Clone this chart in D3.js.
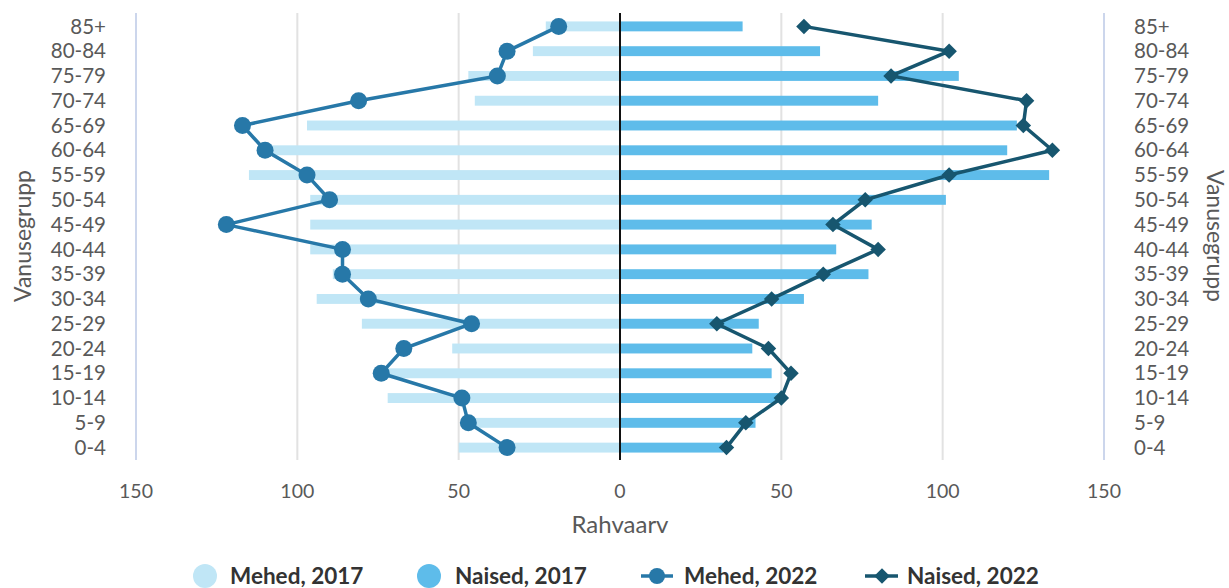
<!DOCTYPE html>
<html>
<head>
<meta charset="utf-8">
<script src="https://cdn.jsdelivr.net/npm/d3@7"></script>
<style>
  body { margin: 0; background: #fff; }
  svg { display: block; font-family: Lato, "Open Sans", sans-serif; }
</style>
</head>
<body>
<script>
(function () {
  var ageGroups = ['0-4', '5-9', '10-14', '15-19', '20-24', '25-29', '30-34', '35-39',
    '40-44', '45-49', '50-54', '55-59', '60-64', '65-69', '70-74', '75-79', '80-84', '85+'];
  var mehed2017 = [50, 46, 72, 74, 52, 80, 94, 89, 96, 96, 96, 115, 108, 97, 45, 47, 27, 23];
  var naised2017 = [32, 42, 49, 47, 41, 43, 57, 77, 67, 78, 101, 133, 120, 123, 80, 105, 62, 38];
  var mehed2022 = [35, 47, 49, 74, 67, 46, 78, 86, 86, 122, 90, 97, 110, 117, 81, 38, 35, 19];
  var naised2022 = [33, 39, 50, 53, 46, 30, 47, 63, 80, 66, 76, 102, 134, 125, 126, 84, 102, 57];
  var xTicks = [-150, -100, -50, 0, 50, 100, 150];

  var width = 1229,
    height = 588,
    svg, x, y, bw, legend;

  svg = d3.select('body')
    .append('svg')
    .attr('width', width)
    .attr('height', height);

  x = d3.scaleLinear()
    .domain([-150, 150])
    .range([136, 1104]);

  y = d3.scaleBand()
    .domain(ageGroups.slice().reverse())
    .range([14, 460])
    .paddingInner(0.6)
    .paddingOuter(0.3);

  bw = y.bandwidth();
  function cy(g) { return y(g) + bw / 2; }

  // gridlines
  svg.append('g')
    .selectAll('line')
    .data([-100, -50, 50, 100])
    .enter()
    .append('line')
    .attr('x1', function (d) { return x(d); })
    .attr('x2', function (d) { return x(d); })
    .attr('y1', 13)
    .attr('y2', 460)
    .attr('stroke', '#e2e2e2')
    .attr('stroke-width', 2);

  // outer axis lines
  svg.append('g')
    .selectAll('line')
    .data([-150, 150])
    .enter()
    .append('line')
    .attr('x1', function (d) { return x(d); })
    .attr('x2', function (d) { return x(d); })
    .attr('y1', 13)
    .attr('y2', 460)
    .attr('stroke', '#ccd6ec')
    .attr('stroke-width', 2);

  // bars
  svg.append('g')
    .selectAll('rect')
    .data(ageGroups)
    .enter()
    .append('rect')
    .attr('x', function (d, i) { return x(-mehed2017[i]); })
    .attr('y', function (d) { return y(d); })
    .attr('width', function (d, i) { return x(0) - x(-mehed2017[i]); })
    .attr('height', bw)
    .attr('fill', '#c0e6f6');

  svg.append('g')
    .selectAll('rect')
    .data(ageGroups)
    .enter()
    .append('rect')
    .attr('x', x(0))
    .attr('y', function (d) { return y(d); })
    .attr('width', function (d, i) { return x(naised2017[i]) - x(0); })
    .attr('height', bw)
    .attr('fill', '#5ebcea');

  // zero line
  svg.append('line')
    .attr('x1', x(0))
    .attr('x2', x(0))
    .attr('y1', 13)
    .attr('y2', 460)
    .attr('stroke', '#111')
    .attr('stroke-width', 2);

  // lines
  var lineM = d3.line()
    .x(function (d) { return x(-d); })
    .y(function (d, i) { return cy(ageGroups[i]); });
  var lineN = d3.line()
    .x(function (d) { return x(d); })
    .y(function (d, i) { return cy(ageGroups[i]); });

  svg.append('path')
    .attr('d', lineM(mehed2022))
    .attr('fill', 'none')
    .attr('stroke', '#2778a8')
    .attr('stroke-width', 3.5);

  svg.append('g')
    .selectAll('circle')
    .data(mehed2022)
    .enter()
    .append('circle')
    .attr('cx', function (d) { return x(-d); })
    .attr('cy', function (d, i) { return cy(ageGroups[i]); })
    .attr('r', 8.5)
    .attr('fill', '#2778a8');

  svg.append('path')
    .attr('d', lineN(naised2022))
    .attr('fill', 'none')
    .attr('stroke', '#17566f')
    .attr('stroke-width', 3.5);

  var diamond = d3.symbol().type(d3.symbolSquare).size(120);
  svg.append('g')
    .selectAll('path')
    .data(naised2022)
    .enter()
    .append('path')
    .attr('d', diamond)
    .attr('transform', function (d, i) {
      return 'translate(' + x(d) + ',' + cy(ageGroups[i]) + ') rotate(45)';
    })
    .attr('fill', '#17566f');

  // y tick labels both sides
  svg.append('g')
    .selectAll('text')
    .data(ageGroups)
    .enter()
    .append('text')
    .attr('x', 106)
    .attr('y', function (d) { return cy(d); })
    .attr('dy', '0.35em')
    .attr('text-anchor', 'end')
    .attr('font-size', 20.5)
    .attr('fill', '#595959')
    .text(function (d) { return d; });

  svg.append('g')
    .selectAll('text')
    .data(ageGroups)
    .enter()
    .append('text')
    .attr('x', 1134)
    .attr('y', function (d) { return cy(d); })
    .attr('dy', '0.35em')
    .attr('text-anchor', 'start')
    .attr('font-size', 20.5)
    .attr('fill', '#595959')
    .text(function (d) { return d; });

  // x tick labels
  svg.append('g')
    .selectAll('text')
    .data(xTicks)
    .enter()
    .append('text')
    .attr('x', function (d) { return x(d); })
    .attr('y', 498)
    .attr('text-anchor', 'middle')
    .attr('font-size', 19.5)
    .attr('fill', '#595959')
    .text(function (d) { return Math.abs(d); });

  svg.append('text')
    .attr('x', x(0))
    .attr('y', 533)
    .attr('text-anchor', 'middle')
    .attr('font-size', 24)
    .attr('fill', '#595959')
    .text('Rahvaarv');

  svg.append('text')
    .attr('transform', 'translate(31,236) rotate(-90)')
    .attr('text-anchor', 'middle')
    .attr('font-size', 23)
    .attr('fill', '#595959')
    .text('Vanusegrupp');

  svg.append('text')
    .attr('transform', 'translate(1207,236) rotate(90)')
    .attr('text-anchor', 'middle')
    .attr('font-size', 23)
    .attr('fill', '#595959')
    .text('Vanusegrupp');

  // legend
  legend = svg.append('g').attr('font-size', 22.5).attr('font-weight', 'bold').attr('fill', '#333');

  legend.append('circle').attr('cx', 205).attr('cy', 576).attr('r', 12).attr('fill', '#c0e6f6');
  legend.append('text').attr('x', 230).attr('y', 584).text('Mehed, 2017');

  legend.append('circle').attr('cx', 429).attr('cy', 576).attr('r', 12).attr('fill', '#5ebcea');
  legend.append('text').attr('x', 455).attr('y', 584).text('Naised, 2017');

  legend.append('line').attr('x1', 641).attr('x2', 673).attr('y1', 576).attr('y2', 576)
    .attr('stroke', '#2778a8').attr('stroke-width', 3.5);
  legend.append('circle').attr('cx', 657).attr('cy', 576).attr('r', 8).attr('fill', '#2778a8');
  legend.append('text').attr('x', 684).attr('y', 584).text('Mehed, 2022');

  legend.append('line').attr('x1', 865).attr('x2', 898).attr('y1', 576).attr('y2', 576)
    .attr('stroke', '#17566f').attr('stroke-width', 3.5);
  legend.append('path').attr('d', diamond)
    .attr('transform', 'translate(882,576) rotate(45)')
    .attr('fill', '#17566f');
  legend.append('text').attr('x', 907).attr('y', 584).text('Naised, 2022');
}());
</script>
</body>
</html>
